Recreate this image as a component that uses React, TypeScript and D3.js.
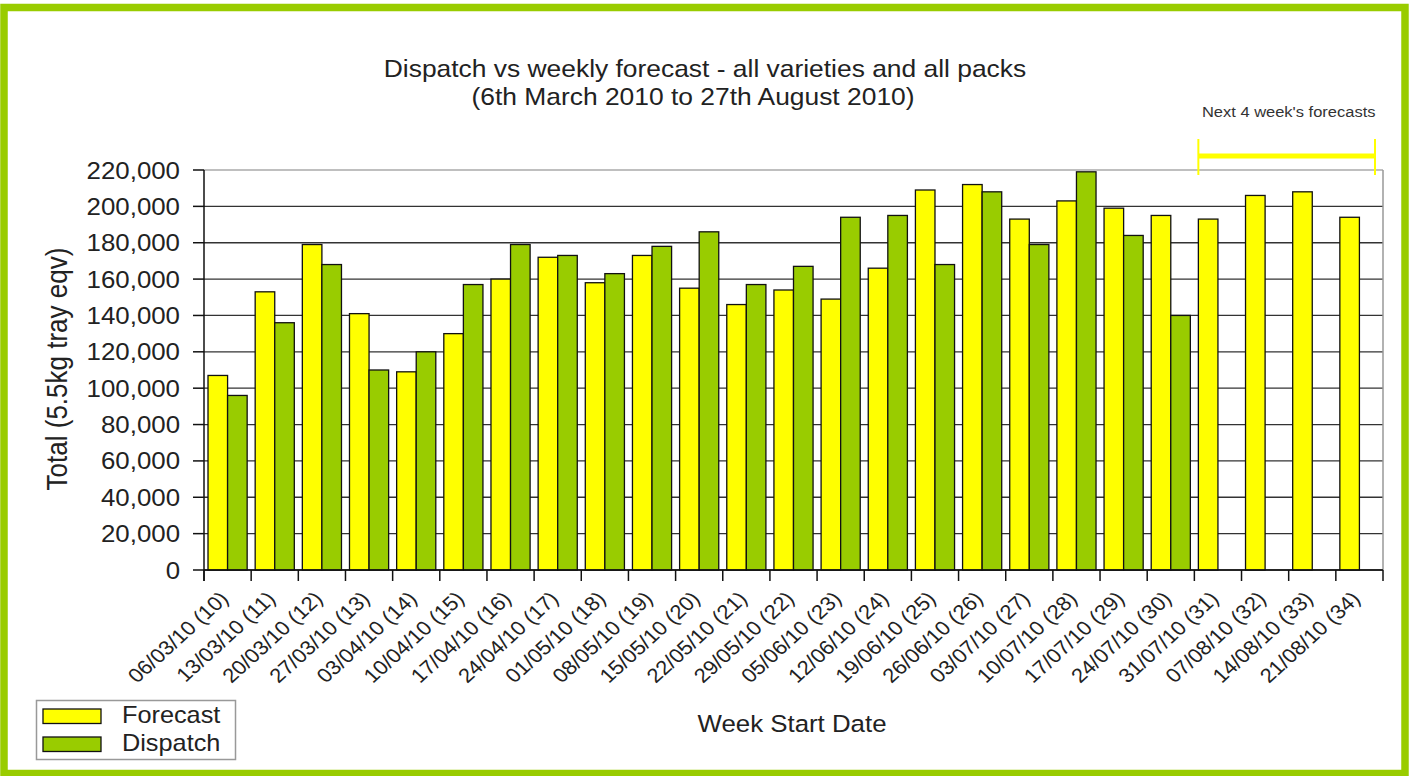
import React from "react";
import * as d3 from "d3";

const weeks = [
  "06/03/10 (10)", "13/03/10 (11)", "20/03/10 (12)", "27/03/10 (13)", "03/04/10 (14)",
  "10/04/10 (15)", "17/04/10 (16)", "24/04/10 (17)", "01/05/10 (18)", "08/05/10 (19)",
  "15/05/10 (20)", "22/05/10 (21)", "29/05/10 (22)", "05/06/10 (23)", "12/06/10 (24)",
  "19/06/10 (25)", "26/06/10 (26)", "03/07/10 (27)", "10/07/10 (28)", "17/07/10 (29)",
  "24/07/10 (30)", "31/07/10 (31)", "07/08/10 (32)", "14/08/10 (33)", "21/08/10 (34)",
];

const forecast = [
  107000, 153000, 179000, 141000, 109000, 130000, 160000, 172000, 158000, 173000,
  155000, 146000, 154000, 149000, 166000, 209000, 212000, 193000, 203000, 199000,
  195000, 193000, 206000, 208000, 194000,
];

const dispatch: (number | null)[] = [
  96000, 136000, 168000, 110000, 120000, 157000, 179000, 173000, 163000, 178000,
  186000, 157000, 167000, 194000, 195000, 168000, 208000, 179000, 219000, 184000,
  140000, null, null, null, null,
];

const yTicks = [0, 20000, 40000, 60000, 80000, 100000, 120000, 140000, 160000, 180000, 200000, 220000];

const series = ["Forecast", "Dispatch"];
const colors = { Forecast: "#ffff00", Dispatch: "#99cc00" };

const W = 1413;
const H = 776;
const FONT = "'Liberation Sans', Arial, sans-serif";
const SX = 1.1; // text in the picture is stretched horizontally

export default function App() {
  const left = 204, right = 1383, top = 170, bottom = 570;

  const x = d3.scaleBand<string>().domain(weeks).range([left, right]).padding(0);
  const bw = x.bandwidth();
  const x1 = d3.scaleBand<string>().domain(series).range([bw * 0.085, bw * 0.915]).padding(0);
  const y = d3.scaleLinear().domain([0, 220000]).range([bottom, top]);
  const fmt = d3.format(",");

  const rows = weeks.map((w, i) => ({ week: w, Forecast: forecast[i], Dispatch: dispatch[i] }));

  const bracketX0 = (x(weeks[21]) ?? 0) + 4;
  const bracketX1 = right - 8;

  return (
    <svg width={W} height={H} style={{ position: "absolute", left: 0, top: 0, background: "#fff" }}>
      <rect x={4} y={7.5} width={1401} height={766} fill="#fff" stroke="#99cc00" strokeWidth={7.5} />

      {/* title */}
      <g fontFamily={FONT} fill="#222" fontSize={24} textAnchor="middle">
        <text transform={`translate(705,77) scale(${SX},1)`}>
          Dispatch vs weekly forecast - all varieties and all packs
        </text>
        <text transform={`translate(693,105) scale(${SX},1)`}>
          (6th March 2010 to 27th August 2010)
        </text>
      </g>

      {/* gridlines */}
      {yTicks.map((t) => (
        <line
          key={t}
          x1={left}
          x2={right}
          y1={y(t)}
          y2={y(t)}
          stroke={t === 220000 ? "#aaa" : "#333"}
          strokeWidth={t === 220000 ? 1.5 : 1.3}
        />
      ))}
      <line x1={right} x2={right} y1={top} y2={bottom} stroke="#999" strokeWidth={1.5} />

      {/* bars */}
      {rows.map((r) => (
        <g key={r.week} transform={`translate(${x(r.week)},0)`}>
          {series.map((s) => {
            const v = r[s as "Forecast" | "Dispatch"];
            if (v == null) return null;
            return (
              <rect
                key={s}
                x={x1(s)}
                y={y(v)}
                width={x1.bandwidth()}
                height={y(0) - y(v)}
                fill={colors[s as "Forecast" | "Dispatch"]}
                stroke="#111"
                strokeWidth={1.3}
              />
            );
          })}
        </g>
      ))}

      {/* y axis */}
      <line x1={left} x2={left} y1={top} y2={bottom + 11} stroke="#111" strokeWidth={1.5} />
      {yTicks.map((t) => (
        <g key={t}>
          <line x1={left - 11} x2={left} y1={y(t)} y2={y(t)} stroke="#111" strokeWidth={1.5} />
          <text
            transform={`translate(${left - 24},${y(t) + 8.5}) scale(${SX},1)`}
            textAnchor="end"
            fontFamily={FONT}
            fontSize={23.5}
            fill="#222"
          >
            {fmt(t)}
          </text>
        </g>
      ))}
      <text
        transform={`translate(67,369) rotate(-90) scale(1,${SX})`}
        textAnchor="middle"
        fontFamily={FONT}
        fontSize={26}
        fill="#222"
      >
        Total (5.5kg tray eqv)
      </text>

      {/* x axis */}
      <line x1={left} x2={right} y1={bottom} y2={bottom} stroke="#111" strokeWidth={1.5} />
      {weeks.concat([""]).map((w, i) => {
        const xx = left + i * bw;
        return <line key={i} x1={xx} x2={xx} y1={bottom} y2={bottom + 11} stroke="#111" strokeWidth={1.5} />;
      })}
      {weeks.map((w) => (
        <text
          key={w}
          transform={`translate(${(x(w) ?? 0) + bw / 2 + 2},${bottom + 30}) scale(${SX},1) rotate(-45)`}
          textAnchor="end"
          fontFamily={FONT}
          fontSize={20}
          fill="#222"
        >
          {w}
        </text>
      ))}
      <text
        transform={`translate(792,732) scale(${SX},1)`}
        textAnchor="middle"
        fontFamily={FONT}
        fontSize={23.5}
        fill="#222"
      >
        Week Start Date
      </text>

      {/* next 4 weeks annotation */}
      <text
        transform={`translate(${(bracketX0 + bracketX1) / 2 + 2},117) scale(${SX},1)`}
        textAnchor="middle"
        fontFamily={FONT}
        fontSize={15}
        fill="#333"
      >
        Next 4 week's forecasts
      </text>
      <g stroke="#ffff00">
        <line x1={bracketX0} x2={bracketX1} y1={156} y2={156} strokeWidth={5} />
        <line x1={bracketX0} x2={bracketX0} y1={139} y2={175} strokeWidth={2} />
        <line x1={bracketX1} x2={bracketX1} y1={139} y2={175} strokeWidth={2} />
      </g>

      {/* legend */}
      <rect x={36.5} y={700.5} width={199} height={59} fill="#fff" stroke="#999" strokeWidth={1.5} />
      {series.map((s, i) => (
        <g key={s}>
          <rect
            x={43}
            y={709 + i * 28}
            width={58}
            height={14.5}
            fill={colors[s as "Forecast" | "Dispatch"]}
            stroke="#111"
            strokeWidth={1.3}
          />
          <text
            transform={`translate(122,${723 + i * 28}) scale(${SX},1)`}
            fontFamily={FONT}
            fontSize={23}
            fill="#222"
          >
            {s}
          </text>
        </g>
      ))}
    </svg>
  );
}
